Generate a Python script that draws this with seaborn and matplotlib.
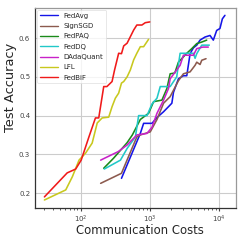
import numpy as np
import pandas as pd
import matplotlib
matplotlib.use("Agg")
import matplotlib.pyplot as plt
import seaborn as sns

methods = ["FedAvg", "SignSGD", "FedPAQ", "FedDQ", "DAdaQuant", "LFL", "FedBiF"]
colors = ["#1515e8", "#8c5a4e", "#1a8a1a", "#22c8c8", "#c822c8", "#c8c81e", "#f01a1a"]

fedavg_x = [390, 730, 815, 1076, 1271, 1582, 1864, 2085, 2200, 2594, 3065, 3425, 3825, 4270, 4775, 5330, 6290, 7425, 8285, 9270, 10330, 11200, 12200]
fedavg_y = [0.238, 0.354, 0.38, 0.38, 0.395, 0.41, 0.423, 0.432, 0.46, 0.495, 0.503, 0.503, 0.56, 0.575, 0.582, 0.595, 0.603, 0.607, 0.595, 0.62, 0.625, 0.65, 0.659]

signsgd_x = [195, 390, 650, 730, 1016, 1271, 1582, 1971, 2594, 3065, 3825, 4517, 4775, 5330, 5640, 6500]
signsgd_y = [0.225, 0.251, 0.345, 0.35, 0.358, 0.39, 0.432, 0.449, 0.49, 0.508, 0.513, 0.53, 0.538, 0.532, 0.543, 0.547]

fedpaq_x = [216, 300, 470, 560, 730, 962, 1136, 1499, 1767, 1971, 2300, 2594, 3425, 4047, 4775, 5640, 6650]
fedpaq_y = [0.264, 0.29, 0.33, 0.35, 0.39, 0.406, 0.436, 0.44, 0.47, 0.508, 0.51, 0.538, 0.561, 0.573, 0.586, 0.59, 0.595]

feddq_x = [220, 377, 470, 620, 690, 912, 1076, 1271, 1417, 1971, 2450, 2745, 4270, 4517, 4775, 5640, 7250]
feddq_y = [0.262, 0.285, 0.315, 0.345, 0.40, 0.40, 0.43, 0.445, 0.475, 0.475, 0.50, 0.561, 0.561, 0.548, 0.56, 0.582, 0.582]

dada_x = [195, 350, 470, 650, 912, 1076, 1271, 1582, 1864, 1971, 2745, 3065, 4270, 4775, 5825, 7015]
dada_y = [0.285, 0.307, 0.324, 0.35, 0.354, 0.37, 0.406, 0.44, 0.47, 0.495, 0.53, 0.556, 0.556, 0.573, 0.577, 0.577]

lfl_x = [30, 61, 76, 95, 118, 147, 174, 205, 255, 285, 318, 355, 390, 420, 470, 524, 585, 650, 730, 815, 912, 960]
lfl_y = [0.182, 0.208, 0.242, 0.285, 0.303, 0.329, 0.381, 0.394, 0.396, 0.423, 0.445, 0.458, 0.484, 0.488, 0.50, 0.518, 0.544, 0.561, 0.578, 0.578, 0.591, 0.597]

fedbif_x = [30, 64, 85, 102, 132, 164, 183, 216, 240, 285, 310, 355, 390, 420, 470, 585, 650, 770, 860, 1000]
fedbif_y = [0.19, 0.252, 0.262, 0.285, 0.345, 0.394, 0.394, 0.475, 0.475, 0.488, 0.518, 0.561, 0.56, 0.58, 0.587, 0.621, 0.634, 0.634, 0.64, 0.642]

series = {
    "FedAvg": (fedavg_x, fedavg_y),
    "SignSGD": (signsgd_x, signsgd_y),
    "FedPAQ": (fedpaq_x, fedpaq_y),
    "FedDQ": (feddq_x, feddq_y),
    "DAdaQuant": (dada_x, dada_y),
    "LFL": (lfl_x, lfl_y),
    "FedBiF": (fedbif_x, fedbif_y),
}

rows = []
for m in methods:
    xs, ys = series[m]
    for i, (a, b) in enumerate(zip(xs, ys)):
        rows.append({"method": m, "step": i, "cost": a, "acc": b})
df = pd.DataFrame(rows)

sns.set_style("whitegrid")
plt.rcParams["font.family"] = ["DejaVu Sans"]

fig = plt.figure(figsize=(2.42, 2.42), dpi=100)
ax = fig.add_axes([0.145, 0.14, 0.83, 0.827])

sns.lineplot(data=df, x="cost", y="acc", hue="method", hue_order=methods,
             palette=colors, units="method", estimator=None, sort=False,
             linewidth=1.15, ax=ax)

ax.set_xscale("log")
ax.set_xlim(22, 17600)
ax.set_ylim(0.161, 0.678)
ax.set_yticks([0.2, 0.3, 0.4, 0.5, 0.6])
ax.set_yticklabels(["0.2", "0.3", "0.4", "0.5", "0.6"])
ax.grid(True, which="major", color="#cccccc", linewidth=0.8)
ax.grid(False, which="minor")
ax.tick_params(axis="both", labelsize=5, colors="#444444", length=2, pad=1.5)
ax.tick_params(axis="x", which="minor", length=1.5, bottom=True, color="#444444")
ax.tick_params(axis="x", which="major", bottom=True, length=2.5)
for s in ["left", "bottom"]:
    ax.spines[s].set_color("#333333")
    ax.spines[s].set_linewidth(0.9)
for s in ["top", "right"]:
    ax.spines[s].set_color("#999999")
    ax.spines[s].set_linewidth(0.9)

# axis labels placed in figure pixel coordinates
W = 242.0
xl = fig.text(140 / W, 1 - 230 / W, "Communication Costs", ha="center", va="center", fontsize=9)
yl = fig.text(11 / W, 1 - 87 / W, "Test Accuracy", ha="center", va="center", rotation=90, fontsize=9)
fig.canvas.draw()
r = fig.canvas.get_renderer()
wx = xl.get_window_extent(r).width
xl.set_fontsize(9 * 127.0 / wx)
hy = yl.get_window_extent(r).height
yl.set_fontsize(9 * 90.0 / hy)
ax.set_xlabel("")
ax.set_ylabel("")

leg = ax.legend(loc="upper left", fontsize=5.0, frameon=True, handlelength=2.6,
                borderaxespad=0.3, labelspacing=0.62, handletextpad=0.8)
leg.get_frame().set_edgecolor("#dddddd")
leg.get_frame().set_linewidth(0.6)
for line in leg.get_lines():
    line.set_linewidth(1.0)

fig.savefig("out.png", dpi=100)
